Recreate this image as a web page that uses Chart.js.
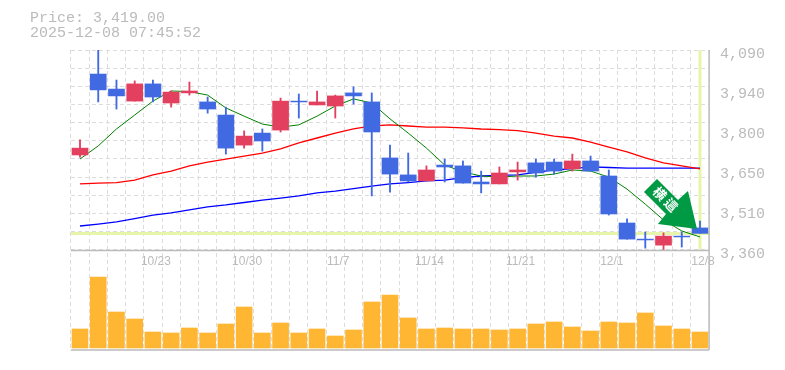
<!DOCTYPE html>
<html>
<head>
<meta charset="utf-8">
<style>body{margin:0;background:#fff}canvas{display:block}</style>
<script src="https://cdn.jsdelivr.net/npm/chart.js@4"></script>
</head>
<body>
<canvas id="chart" width="785" height="370"></canvas>
<script>
var dates=["10/17","10/20","10/21","10/22","10/23","10/24","10/27","10/28","10/29","10/30","10/31","11/4","11/5","11/6","11/7","11/10","11/11","11/12","11/13","11/14","11/17","11/18","11/19","11/20","11/21","11/25","11/26","11/27","11/28","12/1","12/2","12/3","12/4","12/5","12/8"];
var shownDates=["10/23","10/30","11/7","11/14","11/21","12/1","12/8"];
var opens=[3706,4002,3947,3903,3966,3896,3933,3900,3852,3742,3786,3797,3903,3889,3885,3933,3900,3695,3633,3611,3669,3666,3607,3600,3644,3677,3680,3655,3684,3629,3457,3398,3376,3409,3439];
var highs=[3761,4090,3980,3977,3980,3940,3973,3918,3881,3794,3801,3914,3929,3940,3925,3955,3933,3742,3713,3666,3691,3684,3647,3662,3680,3691,3691,3709,3702,3651,3472,3424,3421,3424,3464];
var lows=[3698,3900,3874,3903,3900,3881,3925,3859,3709,3731,3720,3790,3841,3889,3841,3892,3556,3570,3607,3611,3607,3603,3567,3600,3614,3625,3636,3647,3647,3486,3398,3365,3358,3369,3419];
var closes=[3731,3944,3922,3966,3918,3936,3940,3874,3731,3775,3757,3903,3900,3900,3922,3922,3790,3636,3611,3651,3662,3603,3600,3640,3651,3640,3647,3684,3647,3490,3398,3395,3409,3406,3419];
var ma5=[3691,3739,3801,3852,3903,3940,3938,3925,3878,3848,3819,3808,3816,3848,3885,3911,3896,3838,3786,3731,3669,3644,3629,3625,3629,3629,3636,3651,3647,3625,3581,3526,3468,3428,3406];
var ma25=[3600,3603,3605,3614,3633,3647,3666,3680,3691,3702,3713,3728,3750,3768,3786,3801,3812,3816,3812,3808,3808,3805,3801,3799,3795,3786,3775,3768,3753,3735,3717,3695,3677,3666,3655];
var ma75=[3446,3453,3461,3473,3486,3494,3505,3516,3523,3532,3541,3548,3556,3567,3574,3583,3592,3600,3605,3611,3614,3623,3629,3631,3633,3642,3651,3656,3662,3660,3658,3658,3658,3658,3658];
var volumes=[19000,71000,36000,29000,16000,15000,20000,15000,24000,41000,15000,25000,15000,19000,12000,18000,46000,53000,30000,19000,20000,19000,19000,18000,19000,24000,26000,21000,17000,26000,25000,35000,22000,19000,16000];
var priceTicks=[4090,3944,3798,3652,3506,3360];
var priceTickLabels=["4,090","3,940","3,800","3,650","3,510","3,360"];
var gridPrices=[4090,4024,3957,3891,3824,3758,3692,3625,3559,3493,3426,3360];
var lastPrice=3419;
var priceText="Price: 3,419.00";
var timeText="2025-12-08 07:45:52";
var badgeText="横這";

var textGrey="#bbbbbb";
var gridGrey="#dcdcdc";
var upColor="#e34060";
var downColor="#4169e1";
var monoFont="'Liberation Mono', monospace";

var candleColors=opens.map(function(o,i){return closes[i]>o?upColor:downColor;});
var bodies=opens.map(function(o,i){return [o,closes[i]];});
var wicks=lows.map(function(l,i){return [l,highs[i]];});

// yellow last price lines, panel frame and the arrow
var extras={
    id:"extras",
    beforeDatasetsDraw:function(chart){
        var ctx=chart.ctx,area=chart.chartArea,s=chart.scales;
        var py=s.y.getPixelForValue(lastPrice);
        var lx=s.x.getPixelForValue(dates.length-1);
        ctx.save();
        ctx.strokeStyle="#e6f5a9";
        ctx.lineWidth=3;
        ctx.beginPath();
        ctx.moveTo(area.left,py);
        ctx.lineTo(area.right,py);
        ctx.moveTo(lx,area.top);
        ctx.lineTo(lx,s.y.getPixelForValue(3360));
        ctx.stroke();
        ctx.restore();
    },
    afterDatasetsDraw:function(chart){
        var ctx=chart.ctx,area=chart.chartArea,s=chart.scales;
        var midY=Math.round(s.y.getPixelForValue(3360))+0.5;
        ctx.save();
        ctx.strokeStyle=textGrey;
        ctx.lineWidth=1.5;
        ctx.beginPath();
        ctx.moveTo(area.left,midY);
        ctx.lineTo(area.right,midY);
        ctx.moveTo(area.left,area.bottom);
        ctx.lineTo(area.right,area.bottom);
        ctx.moveTo(area.right,area.top);
        ctx.lineTo(area.right,area.bottom);
        ctx.stroke();

        // arrow, placed from the last candle
        var tipX=s.x.getPixelForValue(dates.length-1)-3;
        var tipY=s.y.getPixelForValue(lastPrice)-4.5;
        ctx.translate(tipX,tipY);
        ctx.fillStyle="#009944";
        ctx.beginPath();
        ctx.moveTo(0,0);
        ctx.lineTo(-9,-38);
        ctx.lineTo(-19,-29);
        ctx.lineTo(-40,-50);
        ctx.lineTo(-53,-37);
        ctx.lineTo(-31,-15);
        ctx.lineTo(-39,-5);
        ctx.closePath();
        ctx.fill();
        ctx.translate(-30.5,-28.5);
        ctx.rotate(Math.PI/4);
        ctx.fillStyle="#ffffff";
        ctx.font="bold 13px 'Noto Sans CJK JP'";
        ctx.letterSpacing="3px";
        ctx.textAlign="center";
        ctx.textBaseline="middle";
        ctx.fillText(badgeText,0,0);
        ctx.restore();
    }
};

new Chart(document.getElementById("chart"),{
    data:{
        labels:dates,
        datasets:[
            {type:"bar",yAxisID:"y",data:bodies,backgroundColor:candleColors,barThickness:16,grouped:false,order:1},
            {type:"bar",yAxisID:"y",data:wicks,backgroundColor:candleColors,barThickness:1.2,grouped:false,order:2},
            {type:"bar",yAxisID:"yv",data:volumes,backgroundColor:"#ffb733",barThickness:16,grouped:false,order:3},
            {type:"line",yAxisID:"y",data:ma5,borderColor:"#008000",borderWidth:1,pointRadius:0,tension:0,order:4},
            {type:"line",yAxisID:"y",data:ma25,borderColor:"#ff0000",borderWidth:1.3,pointRadius:0,tension:0,order:5},
            {type:"line",yAxisID:"y",data:ma75,borderColor:"#0000ff",borderWidth:1.3,pointRadius:0,tension:0,order:6}
        ]
    },
    plugins:[extras],
    options:{
        responsive:false,
        animation:false,
        events:[],
        layout:{padding:{left:30,right:0,top:11,bottom:20}},
        plugins:{
            legend:{display:false},
            tooltip:{enabled:false},
            title:{
                display:true,
                text:[priceText,timeText],
                align:"start",
                color:textGrey,
                font:{family:monoFont,size:15,weight:"normal",lineHeight:1},
                padding:{top:0,bottom:9}
            }
        },
        scales:{
            x:{
                position:{y:3360},
                grid:{color:gridGrey,offset:true,drawTicks:false,tickLength:0},
                border:{display:false,dash:[4,3]},
                ticks:{
                    autoSkip:false,
                    maxRotation:0,
                    padding:5,
                    labelOffset:3,
                    color:textGrey,
                    font:{family:"'Liberation Sans', sans-serif",size:12},
                    callback:function(v){var d=this.getLabelForValue(v);return shownDates.indexOf(d)>=0?d:"";}
                }
            },
            y:{
                position:"right",
                min:2992.3,
                max:4090,
                afterBuildTicks:function(a){a.ticks=priceTicks.map(function(v){return {value:v};});},
                afterFit:function(a){a.width=75.9;},
                grid:{display:false},
                border:{display:false},
                ticks:{
                    padding:3,
                    labelOffset:4.5,
                    color:textGrey,
                    font:{family:monoFont,size:15},
                    callback:function(v){return priceTickLabels[priceTicks.indexOf(v)];}
                }
            },
            yg:{
                position:"left",
                min:2992.3,
                max:4090,
                afterBuildTicks:function(a){a.ticks=gridPrices.map(function(v){return {value:v};});},
                afterFit:function(a){a.width=40.88;},
                grid:{color:gridGrey,drawTicks:false},
                border:{display:false,dash:[4,3]},
                ticks:{display:false}
            },
            yv:{
                display:false,
                min:-2000,
                max:298000
            }
        }
    }
});
</script>
</body>
</html>
